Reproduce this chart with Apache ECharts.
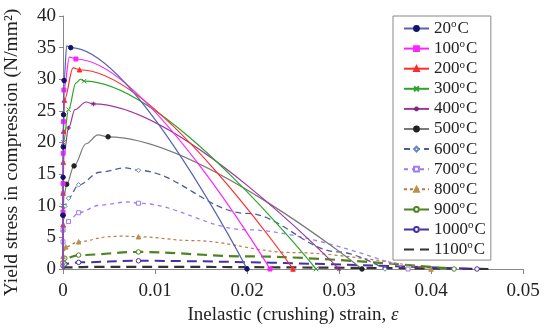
<!DOCTYPE html>
<html><head><meta charset="utf-8">
<script src="https://cdn.jsdelivr.net/npm/echarts@6/dist/echarts.min.js"></script>
<style>html,body{margin:0;padding:0;background:#fff}#c{width:550px;height:333px}</style>
</head><body><div id="c"></div>
<script>
// ---- data (strain, stress N/mm2) ----
const temps = [20, 100, 200, 300, 400, 500, 600, 700, 800, 900, 1000, 1100];
const strain20 = [0, 0, 0.00001, 0.00003, 0.00006, 0.00012, 0.0004, 0.00084, 0.02];
const stress20 = [0, 8.5, 14.5, 19.3, 24.4, 29.8, 35.3, 35.0, 0];
const strain100 = [0, 0, 0.00001, 0.00002, 0.00004, 0.0001, 0.0007, 0.0014, 0.0225];
const stress100 = [0, 9, 13.5, 18.3, 23.3, 28.3, 33.5, 33.2, 0];
const strain200 = [0, 0, 0.00001, 0.00003, 0.00006, 0.00015, 0.0011, 0.0018, 0.025];
const stress200 = [0, 7, 12, 16.9, 21.8, 26.7, 31.8, 31.5, 0];
const strain300 = [0, 0, 0.00005, 0.0006, 0.0014, 0.0019, 0.0023, 0.0275];
const stress300 = [0, 10, 20, 25.2, 29.4, 30.0, 29.7, 0];
const strain400 = [0, 0, 0.0001, 0.0006, 0.0013, 0.0025, 0.0033, 0.03];
const stress400 = [0, 12, 18, 22.3, 25.2, 26.4, 26.1, 0];
const strain500 = [0, 0, 0.0001, 0.0004, 0.0012, 0.0025, 0.0038, 0.0049, 0.0325];
const stress500 = [0, 8.5, 11.5, 13.4, 16.3, 19.8, 21.2, 20.9, 0];
const strain600 = [0, 0, 0.0002, 0.0006, 0.0017, 0.004, 0.0068, 0.0082, 0.02, 0.03, 0.035];
const stress600 = [0, 6, 9.9, 11.2, 13.3, 15.3, 16.0, 15.6, 8.8, 2.7, 0];
const strain700 = [0, 0, 0, 0.0006, 0.0017, 0.004, 0.007, 0.0082, 0.02, 0.0375];
const stress700 = [0, 4.3, 6.2, 7.5, 8.9, 10.1, 10.6, 10.4, 6.2, 0];
const strain800 = [0, 0, 0.0003, 0.0017, 0.005, 0.0065, 0.0082, 0.014, 0.025, 0.04];
const stress800 = [0, 2, 3.5, 4.3, 5.1, 5.2, 5.1, 4.5, 2.6, 0];
const strain900 = [0, 0, 0.0002, 0.0017, 0.0082, 0.02, 0.0425];
const stress900 = [0, 1, 1.7, 2.2, 2.7, 2.0, 0];
const strain1000 = [0, 0, 0.0002, 0.0017, 0.0082, 0.0450];
const stress1000 = [0, 0.5, 0.8, 1.05, 1.3, 0];
const strain1100 = [0, 0.0002, 0.004, 0.0082, 0.0465];
const stress1100 = [0, 0.25, 0.35, 0.35, 0];
// indices of points that carry a marker
const marked20 = [1, 2, 3, 4, 5, 7, 8];
const marked100 = [1, 2, 3, 4, 5, 7, 8];
const marked200 = [1, 2, 3, 4, 5, 7, 8];
const marked300 = [1, 2, 3, 6, 7];
const marked400 = [1, 3, 6, 7];
const marked500 = [1, 3, 4, 7, 8];
const marked600 = [1, 2, 3, 4, 7, 10];
const marked700 = [1, 2, 3, 4, 7, 9];
const marked800 = [1, 2, 3, 6, 9];
const marked900 = [1, 2, 3, 4, 6];
const marked1000 = [1, 2, 3, 4, 5];
const marked1100 = [];
const xTicks = [0, 0.01, 0.02, 0.03, 0.04, 0.05];
const yTicks = [0, 5, 10, 15, 20, 25, 30, 35, 40];

const strains = [strain20, strain100, strain200, strain300, strain400, strain500, strain600, strain700, strain800, strain900, strain1000, strain1100];
const stresses = [stress20, stress100, stress200, stress300, stress400, stress500, stress600, stress700, stress800, stress900, stress1000, stress1100];
const marks = [marked20, marked100, marked200, marked300, marked400, marked500, marked600, marked700, marked800, marked900, marked1000, marked1100];

// ---- styles ----
const styles = [
  {line: '#5563b0', type: 'solid', w: 1.2, sym: 'circle', fill: '#12126a', border: '#12126a'},
  {line: '#ff22ff', type: 'solid', w: 1.2, sym: 'rect', fill: '#ff22ff', border: '#ff22ff'},
  {line: '#ff2a2a', type: 'solid', w: 1.2, sym: 'triangle', fill: '#ff2a2a', border: '#ff2a2a'},
  {line: '#2aa52a', type: 'solid', w: 1.2, sym: 'path://M0,0L10,10M10,0L0,10', fill: '#2aa52a', border: '#2aa52a'},
  {line: '#a035a0', type: 'solid', w: 1.2, sym: 'path://M5,0L5,10M0,5L10,5M1.5,1.5L8.5,8.5M8.5,1.5L1.5,8.5', fill: '#7a2a7a', border: '#7a2a7a'},
  {line: '#7a7a7a', type: 'solid', w: 1.2, sym: 'circle', fill: '#222', border: '#222'},
  {line: '#4a5e98', type: [6, 4], w: 1.3, sym: 'diamond', fill: '#fff', border: '#6a84c4'},
  {line: '#a07cf4', type: [4, 4], w: 1.3, sym: 'rect', fill: '#fff', border: '#a07cf4'},
  {line: '#c0773e', type: [3, 3], w: 1.2, sym: 'triangle', fill: '#b8904a', border: '#b8904a'},
  {line: '#4d8422', type: [10, 6], w: 2.2, sym: 'circle', fill: '#fff', border: '#4d8422'},
  {line: '#4a2fa0', type: [10, 6], w: 2.0, sym: 'circle', fill: '#fff', border: '#4a2fa0'},
  {line: '#333333', type: [10, 6], w: 2.2, sym: 'circle', fill: 'rgba(0,0,0,0)', border: 'rgba(0,0,0,0)'}
];

const FONT = '"Liberation Serif", "Times New Roman", serif';

const series = temps.map((t, i) => {
  const st = styles[i];
  const data = strains[i].map((x, k) => {
    const d = {value: [x, stresses[i][k]]};
    if (marks[i].indexOf(k) < 0) d.symbol = 'none';
    return d;
  });
  return {
    name: t + '°C',
    type: 'line',
    data: data,
    smooth: 0.35,
    smoothMonotone: 'x',
    symbol: st.sym,
    symbolSize: st.sym === 'rect' ? 4 : 4.5,
    showAllSymbol: true,
    lineStyle: {color: st.line, width: st.w, type: st.type},
    itemStyle: {color: st.fill, borderColor: st.border, borderWidth: 1},
    emphasis: {disabled: true},
    z: 20 - i
  };
});

const chart = echarts.init(document.getElementById('c'), null, {renderer: 'canvas'});
chart.setOption({
  animation: false,
  backgroundColor: '#fff',
  grid: {left: 63, right: 27, top: 16, bottom: 64, containLabel: false, outerBoundsMode: 'none'},
  legend: {
    orient: 'vertical',
    left: 393, top: 16,
    padding: [3, 5, 1, 10],
    itemWidth: 25, itemHeight: 6, itemGap: 1.1,
    borderColor: '#888', borderWidth: 1,
    backgroundColor: '#fff',
    data: temps.map(t => t + '°C'),
    formatter: n => n.replace('°', '{o|o}'),
    textStyle: {fontFamily: FONT, fontSize: 17, lineHeight: 17, color: '#222',
      rich: {o: {fontFamily: FONT, fontSize: 11, lineHeight: 9, color: '#222', padding: [0, 1, 8, 0]}}}
  },
  xAxis: {
    type: 'value', min: 0, max: 0.05, interval: 0.01,
    name: 'Inelastic (crushing) strain, {e|ε}',
    nameLocation: 'middle', nameGap: 36,
    nameTextStyle: {fontFamily: FONT, fontSize: 19, color: '#222',
      rich: {e: {fontFamily: FONT, fontSize: 19, fontStyle: 'italic', color: '#222'}}},
    axisLine: {show: true, onZero: false, lineStyle: {color: '#888', width: 1}},
    axisTick: {show: true, inside: false, length: 5, lineStyle: {color: '#888'}},
    axisLabel: {fontFamily: FONT, fontSize: 19, color: '#222', margin: 13,
      formatter: v => String(+v.toFixed(2))},
    splitLine: {show: false}
  },
  yAxis: {
    type: 'value', min: 0, max: 40, interval: 5,
    name: 'Yield stress in compression (N/mm²)',
    nameLocation: 'middle', nameGap: 41,
    nameTextStyle: {fontFamily: FONT, fontSize: 19.5, color: '#222', padding: [0, 20, 0, 0]},
    axisLine: {show: true, lineStyle: {color: '#888', width: 1}},
    axisTick: {show: true, inside: false, length: 4, lineStyle: {color: '#888'}},
    axisLabel: {fontFamily: FONT, fontSize: 19, color: '#222', margin: 7},
    splitLine: {show: false}
  },
  series: series
});
</script>
</body></html>
